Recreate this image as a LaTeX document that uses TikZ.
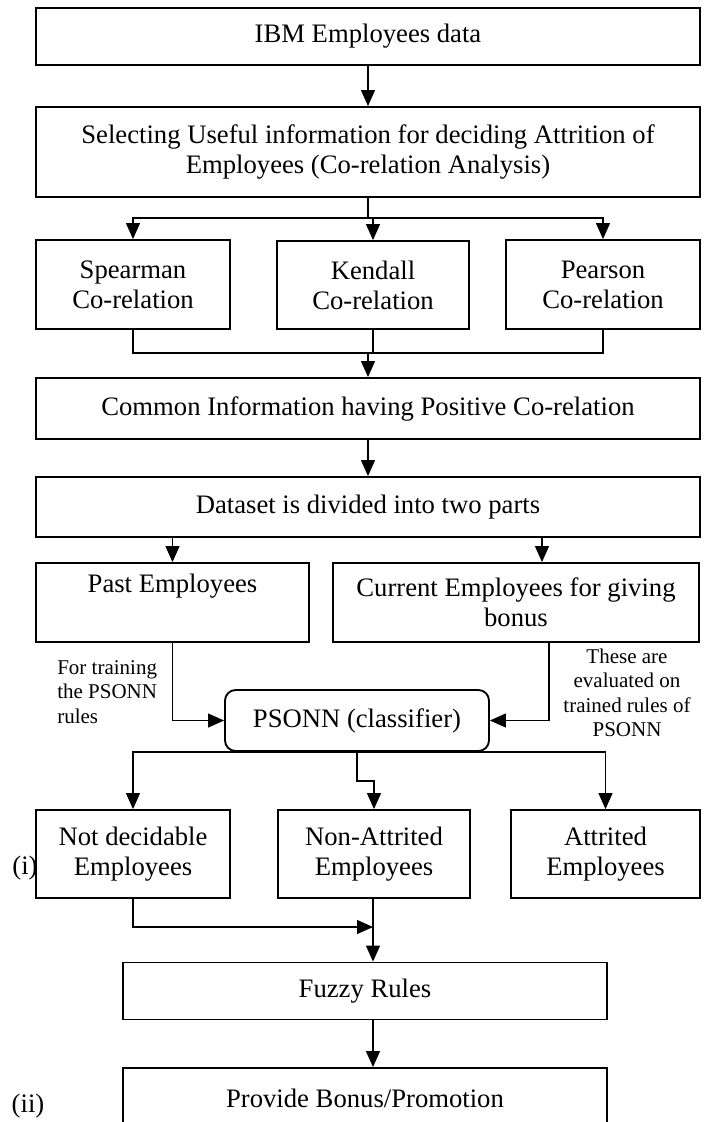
\documentclass[tikz,border=0pt]{standalone}
\usepackage{fontspec}
\setmainfont{Liberation Serif}
\usetikzlibrary{arrows.meta,calc}
\begin{document}
\begin{tikzpicture}[x=0.75pt,y=-0.75pt,
  box/.style={draw, line width=1.4pt, align=center, inner sep=0pt, font=\fontsize{20}{22.5}\selectfont},
  wh/.style 2 args={minimum width=#1*0.75pt, minimum height=#2*0.75pt},
  conn/.style={line width=0.9pt},
  arr/.style={conn, -{Triangle[length=12pt,width=10.5pt]}},
  lbl/.style={font=\fontsize{15.75}{18.4}\selectfont, inner sep=0pt},
  side/.style={font=\fontsize{20}{22.5}\selectfont, inner sep=0pt}]
\useasboundingbox (0,0) rectangle (707,1122);

\node[box, wh={664}{57}] (ibm) at (368,36.5) {IBM Employees data};
\node[box, wh={664}{90}] (sel) at (368,152) {Selecting Useful information for deciding Attrition of\\Employees (Co-relation Analysis)};
\node[box, wh={194}{89}] (spear) at (133,284.5) {Spearman\\Co-relation};
\node[box, wh={192}{88}] (kend) at (373,285) {Kendall\\Co-relation};
\node[box, wh={194}{89}] (pear) at (603,284.5) {Pearson\\Co-relation};
\node[box, wh={664}{61}] (common) at (368,408.5) {Common Information having Positive Co-relation};
\node[box, wh={664}{60}] (data) at (368,507) {Dataset is divided into two parts};
\node[box, wh={273}{79}] (past) at (172.5,602.5) {Past Employees\\\strut};
\node[box, wh={366}{79}] (curr) at (516,602.5) {Current Employees for giving\\bonus};
\node[box, rounded corners=8pt, wh={264}{61}] (pso) at (357,720.5) {PSONN (classifier)};
\node[box, wh={194}{88}] (notd) at (133,854) {Not decidable\\Employees};
\node[box, wh={192}{88}] (nona) at (374,854) {Non-Attrited\\Employees};
\node[box, wh={189}{88}] (attr) at (605.5,854) {Attrited\\Employees};
\node[box, wh={484}{57}] (fuzzy) at (365,991) {Fuzzy Rules};
\node[box, wh={484}{60}] (prov) at (365,1098) {Provide Bonus/Promotion};

\node[lbl, align=left, anchor=west] (ltrain) at (57,692) {For training\\the PSONN\\rules};
\node[lbl, align=center] (leval) at (627,693) {These are\\evaluated on\\trained rules of\\PSONN};
\node[side] (li) at (25,868) {(i)};
\node[side] (lii) at (28,1106) {(ii)};

\draw[arr] (ibm.south) -- (sel.north);
\coordinate (b1) at (368,218);
\draw[conn] (sel.south) -- (b1);
\draw[arr] (b1) -| (spear.north);
\draw[arr] (b1) -| (kend.north);
\draw[arr] (b1) -| (pear.north);
\coordinate (b2) at (368,353);
\draw[conn] (spear.south) |- (b2);
\draw[conn] (pear.south) |- (b2);
\draw[conn] (kend.south) |- (b2);
\draw[arr] (b2) -- (common.north);
\draw[arr] (common.south) -- (data.north);
\draw[arr] (data.south -| past.north) -- (past.north);
\coordinate (c1) at (542,537);
\draw[arr] (c1) -- (c1 |- curr.north);
\draw[arr] (past.south) |- (pso.west);
\coordinate (c2) at (549,642);
\draw[arr] (c2) |- (pso.east);
\draw[arr] (pso.south) -| (notd.north);
\draw[arr] (pso.south) -| (attr.north);
\coordinate (c3) at (357,781);
\draw[arr] (pso.south) -- (c3) -| (nona.north);
\coordinate (m) at (373,927);
\draw[arr] (notd.south) |- (m);
\draw[arr] (nona.south -| m) -- (m |- fuzzy.north);
\draw[arr] (fuzzy.south -| m) -- (m |- prov.north);
\end{tikzpicture}
\end{document}
